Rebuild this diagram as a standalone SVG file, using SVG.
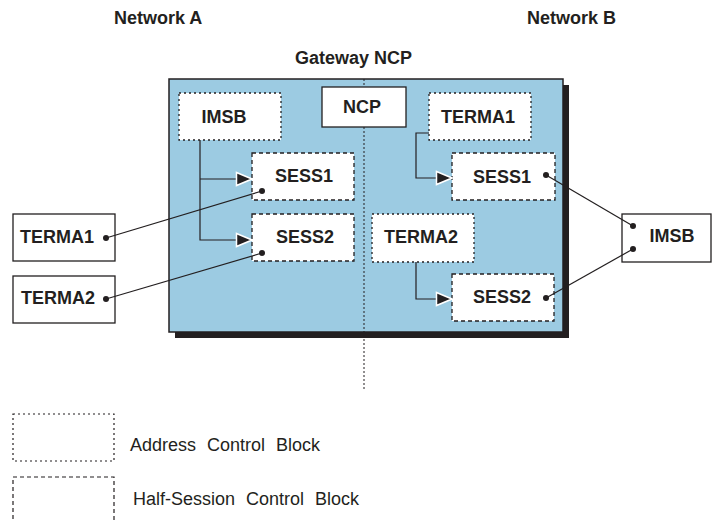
<svg xmlns="http://www.w3.org/2000/svg" width="712" height="521" viewBox="0 0 712 521">
<style>
.lbl{font-family:"Liberation Sans",Arial,sans-serif;font-size:18px;font-weight:bold;fill:#231f20;text-anchor:middle}
.ttl{font-family:"Liberation Sans",Arial,sans-serif;font-size:18px;font-weight:bold;fill:#231f20}
.leg{font-family:"Liberation Sans",Arial,sans-serif;font-size:18px;fill:#231f20;word-spacing:6px}
.solid{fill:#fff;stroke:#231f20;stroke-width:1.3}
.acb{fill:#fff;stroke:#231f20;stroke-width:1.3;stroke-dasharray:2 3}
.hscb{fill:#fff;stroke:#231f20;stroke-width:1.3;stroke-dasharray:4 3}
.ln{fill:none;stroke:#231f20;stroke-width:1.2}
.dot{fill:#231f20}
</style>
<defs>
<marker id="arr" viewBox="0 0 18 16" refX="17" refY="8" markerWidth="18" markerHeight="16" markerUnits="userSpaceOnUse" orient="auto">
<path d="M1.5,1.5 L17,8 L1.5,14.5 Z" fill="#231f20" stroke="#fff" stroke-width="1.5"/>
</marker>
</defs>
<rect width="712" height="521" fill="#fff"/>
<g id="titles">
<text class="ttl" x="114" y="24">Network A</text>
<text class="ttl" x="527" y="24">Network B</text>
<text class="ttl" x="295" y="64">Gateway NCP</text>
</g>
<g id="gateway">
<rect x="175" y="85" width="394" height="253" fill="#231f20"/>
<rect x="169" y="79" width="394" height="253" fill="#9ccbe2" stroke="#231f20" stroke-width="1.5"/>
<line x1="364" y1="79" x2="364" y2="390" stroke="#231f20" stroke-width="1" stroke-dasharray="2 2"/>
</g>
<g id="ncp"><rect class="solid" x="322" y="87" width="84" height="40"/><text class="lbl" x="362" y="113">NCP</text></g>
<g id="imsb-a"><rect class="acb" x="179" y="93" width="102" height="47"/><text class="lbl" x="224" y="123">IMSB</text></g>
<g id="sess1-a"><rect class="hscb" x="252" y="153" width="102" height="47"/><text class="lbl" x="304" y="182">SESS1</text></g>
<g id="sess2-a"><rect class="hscb" x="252" y="214" width="102" height="47"/><text class="lbl" x="305" y="243">SESS2</text></g>
<g id="terma1-b"><rect class="acb" x="429" y="93" width="102" height="47"/><text class="lbl" x="478" y="123">TERMA1</text></g>
<g id="sess1-b"><rect class="hscb" x="452" y="153" width="103" height="47"/><text class="lbl" x="502" y="183">SESS1</text></g>
<g id="terma2-b"><rect class="acb" x="372" y="214" width="102" height="48"/><text class="lbl" x="421" y="243">TERMA2</text></g>
<g id="sess2-b"><rect class="hscb" x="452" y="274" width="102" height="47"/><text class="lbl" x="502" y="303">SESS2</text></g>
<g id="terma1-ext"><rect class="solid" x="13" y="214" width="102" height="47"/><text class="lbl" x="57" y="243">TERMA1</text></g>
<g id="terma2-ext"><rect class="solid" x="13" y="276" width="102" height="47"/><text class="lbl" x="58" y="304">TERMA2</text></g>
<g id="imsb-ext"><rect class="solid" x="622" y="214" width="89" height="48"/><text class="lbl" x="672" y="242">IMSB</text></g>
<g id="connectors">
<path class="ln" d="M200,140 V240 H252" marker-end="url(#arr)"/>
<path class="ln" d="M200,179 H252" marker-end="url(#arr)"/>
<path class="ln" d="M429,133 H416 V178 H452" marker-end="url(#arr)"/>
<path class="ln" d="M416,262 V299 H452" marker-end="url(#arr)"/>
<line class="ln" x1="106" y1="238" x2="262" y2="191"/>
<line class="ln" x1="106" y1="299" x2="262" y2="253"/>
<line class="ln" x1="546" y1="175" x2="633" y2="226"/>
<line class="ln" x1="546" y1="298" x2="633" y2="249"/>
<circle class="dot" cx="106" cy="238" r="3"/>
<circle class="dot" cx="262" cy="191" r="3"/>
<circle class="dot" cx="106" cy="299" r="3"/>
<circle class="dot" cx="262" cy="253" r="3"/>
<circle class="dot" cx="546" cy="175" r="3"/>
<circle class="dot" cx="633" cy="226" r="3"/>
<circle class="dot" cx="546" cy="298" r="3"/>
<circle class="dot" cx="633" cy="249" r="3"/>
</g>
<g id="legend">
<rect x="13" y="414" width="101" height="47" fill="none" stroke="#231f20" stroke-width="1.2" stroke-dasharray="2 3"/>
<text class="leg" x="130" y="451">Address Control Block</text>
<rect x="13" y="477" width="101" height="60" fill="none" stroke="#231f20" stroke-width="1.2" stroke-dasharray="4 3"/>
<text class="leg" x="133" y="505">Half-Session Control Block</text>
</g>
</svg>
